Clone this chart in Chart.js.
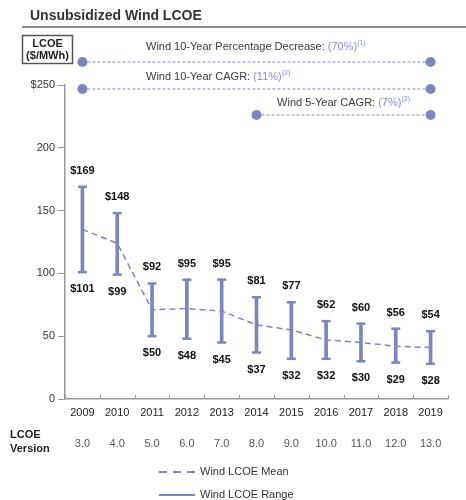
<!DOCTYPE html>
<html>
<head>
<meta charset="utf-8">
<script src="https://cdn.jsdelivr.net/npm/chart.js@4/dist/chart.umd.min.js"></script>
<style>
  html, body { margin: 0; padding: 0; background: #fff; }
  #wrap { width: 466px; height: 500px; position: relative; }
</style>
</head>
<body>
<div id="wrap"><canvas id="c" width="466" height="500"></canvas></div>
<script>
// Unsubsidized wind LCOE by year ($/MWh)
const years     = ['2009','2010','2011','2012','2013','2014','2015','2016','2017','2018','2019'];
const versions  = ['3.0','4.0','5.0','6.0','7.0','8.0','9.0','10.0','11.0','12.0','13.0'];
const rangeLow  = [101, 99, 50, 48, 45, 37, 32, 32, 30, 29, 28];
const rangeHigh = [169, 148, 92, 95, 95, 81, 77, 62, 60, 56, 54];
const meanLcoe  = [135, 124, 71, 72, 70, 59, 55, 47, 45, 42, 41];
const yTicks    = [0, 50, 100, 150, 200, 250];

// Summary callouts: [label, value, footnote, first year index, last year index]
const callouts = [
  ['Wind 10-Year Percentage Decrease: ', '(70%)', '(1)', 0, 10],
  ['Wind 10-Year CAGR: ', '(11%)', '(2)', 0, 10],
  ['Wind 5-Year CAGR: ', '(7%)', '(2)', 5, 10]
];

const ACCENT = '#7b86bf';
const PCT = '#8a8ed6';
const FONT = '"Liberation Sans", Arial, Helvetica, sans-serif';

// Draws a run of differently styled text pieces; left-aligned at x, or centred on x when centred is true
function richText(ctx, parts, x, y, centred) {
  let total = 0;
  parts.forEach(p => { ctx.font = p.font; total += ctx.measureText(p.text).width; });
  let cx = centred ? x - total / 2 : x;
  ctx.textAlign = 'left';
  ctx.textBaseline = 'middle';
  parts.forEach(p => {
    ctx.font = p.font;
    ctx.fillStyle = p.color;
    ctx.fillText(p.text, cx, y + (p.dy || 0));
    cx += ctx.measureText(p.text).width;
  });
}

const decorations = {
  id: 'decorations',
  afterDraw(chart) {
    const ctx = chart.ctx;
    const xs = chart.scales.x;
    const ys = chart.scales.y;
    const area = chart.chartArea;
    ctx.save();

    // Title and rule
    ctx.fillStyle = '#333';
    ctx.font = 'bold 14px ' + FONT;
    ctx.textAlign = 'left';
    ctx.textBaseline = 'middle';
    ctx.fillText('Unsubsidized Wind LCOE', 30, 16);
    ctx.strokeStyle = '#8c8c8c';
    ctx.lineWidth = 2;
    ctx.beginPath(); ctx.moveTo(22, 27); ctx.lineTo(466, 27); ctx.stroke();

    // Unit box
    ctx.strokeStyle = '#555';
    ctx.lineWidth = 1.5;
    ctx.strokeRect(22.5, 35.5, 50, 28);
    ctx.fillStyle = '#222';
    ctx.font = 'bold 11px ' + FONT;
    ctx.textAlign = 'center';
    ctx.fillText('LCOE', 47.5, 44);
    ctx.fillText('($/MWh)', 47.5, 56);

    // Callout lines with end dots
    const rows = [
      { text: 47, line: 62, left: 146 },
      { text: 77, line: 89, left: 146 },
      { text: 103, line: 115, left: null }
    ];
    callouts.forEach((c, k) => {
      const x0 = xs.getPixelForValue(c[3]);
      const x1 = xs.getPixelForValue(c[4]);
      const r = rows[k];
      ctx.strokeStyle = ACCENT;
      ctx.lineWidth = 1;
      ctx.setLineDash([3, 2]);
      ctx.beginPath(); ctx.moveTo(x0, r.line); ctx.lineTo(x1, r.line); ctx.stroke();
      ctx.setLineDash([]);
      ctx.fillStyle = ACCENT;
      [x0, x1].forEach(x => { ctx.beginPath(); ctx.arc(x, r.line, 5, 0, Math.PI * 2); ctx.fill(); });
      const parts = [
        { text: c[0], font: '11px ' + FONT, color: '#3a3a3a' },
        { text: c[1], font: '11px ' + FONT, color: PCT },
        { text: c[2], font: '7px ' + FONT, color: PCT, dy: -4 }
      ];
      if (r.left !== null) richText(ctx, parts, r.left, r.text, false);
      else richText(ctx, parts, (x0 + x1) / 2, r.text, true);
    });

    // Value labels above and below each range
    ctx.fillStyle = '#111';
    ctx.font = 'bold 11px ' + FONT;
    ctx.textAlign = 'center';
    ctx.textBaseline = 'middle';
    years.forEach((y, i) => {
      const x = xs.getPixelForValue(i);
      ctx.fillText('$' + rangeHigh[i], x, ys.getPixelForValue(rangeHigh[i]) - 16);
      ctx.fillText('$' + rangeLow[i], x, ys.getPixelForValue(rangeLow[i]) + 17);
    });

    // Inward tick marks on the x axis at category boundaries
    ctx.strokeStyle = '#999';
    ctx.lineWidth = 1;
    const half = (xs.getPixelForValue(1) - xs.getPixelForValue(0)) / 2;
    for (let i = 0; i <= years.length; i++) {
      const x = Math.round(xs.getPixelForValue(i) - half) + 0.5;
      ctx.beginPath(); ctx.moveTo(x, area.bottom); ctx.lineTo(x, area.bottom - 4); ctx.stroke();
    }

    // LCOE version row
    ctx.fillStyle = '#222';
    ctx.font = 'bold 11px ' + FONT;
    ctx.textAlign = 'left';
    ctx.fillText('LCOE', 10, 435);
    ctx.fillText('Version', 10, 449);
    ctx.fillStyle = '#555';
    ctx.font = '11px ' + FONT;
    ctx.textAlign = 'center';
    versions.forEach((v, i) => ctx.fillText(v, xs.getPixelForValue(i), 444));

    // Legend
    ctx.strokeStyle = ACCENT;
    ctx.lineWidth = 2;
    ctx.setLineDash([8, 6]);
    ctx.beginPath(); ctx.moveTo(159, 472); ctx.lineTo(195, 472); ctx.stroke();
    ctx.setLineDash([]);
    ctx.beginPath(); ctx.moveTo(159, 495); ctx.lineTo(195, 495); ctx.stroke();
    ctx.fillStyle = '#333';
    ctx.font = '11px ' + FONT;
    ctx.textAlign = 'left';
    ctx.fillText('Wind LCOE Mean', 200, 472);
    ctx.fillText('Wind LCOE Range', 200, 495);

    ctx.restore();
  }
};

new Chart(document.getElementById('c'), {
  type: 'bar',
  data: {
    labels: years,
    datasets: [
      {
        type: 'line',
        label: 'Wind LCOE Mean',
        data: meanLcoe,
        borderColor: ACCENT,
        borderWidth: 1.5,
        borderDash: [6, 4],
        pointRadius: 0,
        tension: 0,
        order: 1
      },
      {
        type: 'line',
        label: 'Range high',
        data: rangeHigh,
        showLine: false,
        pointStyle: 'line',
        pointRadius: 4.5,
        pointHoverRadius: 4.5,
        pointBorderWidth: 2.5,
        pointBorderColor: ACCENT,
        order: 2
      },
      {
        type: 'line',
        label: 'Range low',
        data: rangeLow,
        showLine: false,
        pointStyle: 'line',
        pointRadius: 4.5,
        pointHoverRadius: 4.5,
        pointBorderWidth: 2.5,
        pointBorderColor: ACCENT,
        order: 2
      },
      {
        label: 'Wind LCOE Range',
        data: rangeLow.map((lo, i) => [lo, rangeHigh[i]]),
        backgroundColor: ACCENT,
        borderWidth: 0,
        barThickness: 3,
        order: 3
      }
    ]
  },
  options: {
    responsive: false,
    animation: false,
    events: [],
    layout: { padding: { top: 85, right: 18, left: 0, bottom: 0 } },
    plugins: { legend: { display: false }, tooltip: { enabled: false } },
    scales: {
      x: {
        offset: true,
        grid: { display: false, drawTicks: false },
        border: { display: true, color: '#999', width: 1.5 },
        ticks: { color: '#222', font: { family: FONT, size: 11 }, padding: 7, maxRotation: 0, autoSkip: false },
        afterFit(scale) { scale.height = 101; }
      },
      y: {
        min: 0,
        max: 250,
        afterBuildTicks(scale) { scale.ticks = yTicks.map(v => ({ value: v })); },
        grid: { drawOnChartArea: false, drawTicks: true, tickLength: 7, color: '#999' },
        border: { display: true, color: '#999', width: 1.5 },
        ticks: {
          color: '#333',
          padding: 3,
          font: { family: FONT, size: 11 },
          callback: v => (v === 250 ? '$250' : String(v))
        },
        afterFit(scale) { scale.width = 65; }
      }
    }
  },
  plugins: [decorations]
});
</script>
</body>
</html>
